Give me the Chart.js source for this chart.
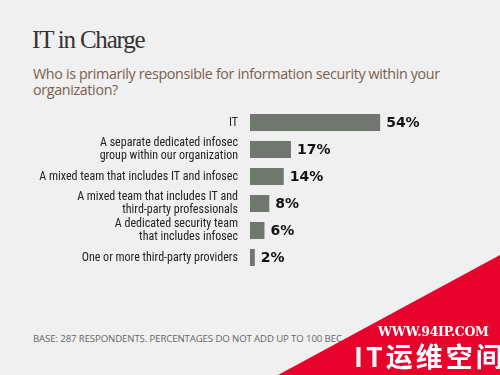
<!DOCTYPE html>
<html>
<head>
<meta charset="utf-8">
<script src="https://cdn.jsdelivr.net/npm/chart.js@4/dist/chart.umd.min.js"></script>
<style>
  html, body { margin: 0; padding: 0; background: #f0f0f0; }
  #wrap { position: relative; width: 500px; height: 375px; overflow: hidden; background: #f0f0f0; }
  #title { position: absolute; left: 32px; top: 26px; font-family: "Liberation Serif", "DejaVu Serif", serif; font-size: 25px; color: #333; letter-spacing: -1.2px; white-space: nowrap; }
  #sub { position: absolute; left: 33px; top: 66px; width: 450px; font-family: "Open Sans", "Noto Sans", sans-serif; font-size: 14.3px; line-height: 16px; color: #7d5e4a; letter-spacing: -0.35px; }
  #foot { position: absolute; left: 33px; top: 332px; font-family: "Open Sans", "Noto Sans", sans-serif; font-size: 9.6px; color: #666; letter-spacing: -0.1px; white-space: nowrap; }
  #cv { position: absolute; left: 0; top: 0; }
  #wm { position: absolute; left: 0; top: 0; width: 500px; height: 375px; background: #e8032c; clip-path: polygon(500px 255px, 500px 375px, 278px 375px); }
  #wm1 { position: absolute; left: 378px; top: 324px; font-family: "DejaVu Serif", "Liberation Serif", serif; font-weight: bold; font-size: 12.5px; color: #fff; letter-spacing: -0.3px; white-space: nowrap; }
  #wm2 { position: absolute; left: 354px; top: 340px; font-family: "Noto Sans CJK SC", sans-serif; font-weight: bold; font-size: 27px; line-height: 32px; color: #fff; letter-spacing: 3px; white-space: nowrap; }
</style>
</head>
<body>
<div id="wrap">
  <div id="title">IT in Charge</div>
  <div id="sub">Who is primarily responsible for information security within your organization?</div>
  <div id="foot">BASE: 287 RESPONDENTS. PERCENTAGES DO NOT ADD UP TO 100 BEC</div>
  <canvas id="cv" width="500" height="375"></canvas>
  <div id="wm"></div>
  <div id="wm1">WWW.94IP.COM</div>
  <div id="wm2">IT运维空间</div>
</div>
<script>
const categories = [
  ["IT"],
  ["A separate dedicated infosec", "group within our organization"],
  ["A mixed team that includes IT and infosec"],
  ["A mixed team that includes IT and", "third-party professionals"],
  ["A dedicated security team", "that includes infosec"],
  ["One or more third-party providers"]
];
const values = [54, 17, 14, 8, 6, 2];
const valueLabels = ["54%", "17%", "14%", "8%", "6%", "2%"];

const valueLabelPlugin = {
  id: 'valueLabels',
  afterDatasetsDraw(chart) {
    const ctx = chart.ctx;
    const meta = chart.getDatasetMeta(0);
    ctx.save();
    ctx.font = 'bold 14px "DejaVu Sans", sans-serif';
    ctx.fillStyle = '#111';
    ctx.textBaseline = 'middle';
    ctx.textAlign = 'left';
    meta.data.forEach((bar, i) => {
      ctx.fillText(valueLabels[i], bar.x + 6, bar.y + 1);
    });
    ctx.restore();
  }
};

new Chart(document.getElementById('cv'), {
  type: 'bar',
  data: {
    labels: categories,
    datasets: [{
      data: values,
      backgroundColor: '#6f776f',
      borderWidth: 0,
      categoryPercentage: 1,
      barPercentage: 0.63
    }]
  },
  options: {
    indexAxis: 'y',
    responsive: false,
    animation: false,
    events: [],
    layout: { padding: { left: 0, right: 9, top: 109, bottom: 104 } },
    plugins: { legend: { display: false }, tooltip: { enabled: false } },
    scales: {
      x: { display: false, min: 0, max: 100 },
      y: {
        grid: { display: false, drawTicks: false },
        border: { display: false },
        afterFit(scale) { scale.width = 250; },
        ticks: {
          autoSkip: false,
          padding: 12,
          color: '#222',
          font: { family: '"Liberation Sans Narrow", "Roboto Condensed", Roboto, sans-serif', size: 12, lineHeight: 1.15 }
        }
      }
    }
  },
  plugins: [valueLabelPlugin]
});
</script>
</body>
</html>
